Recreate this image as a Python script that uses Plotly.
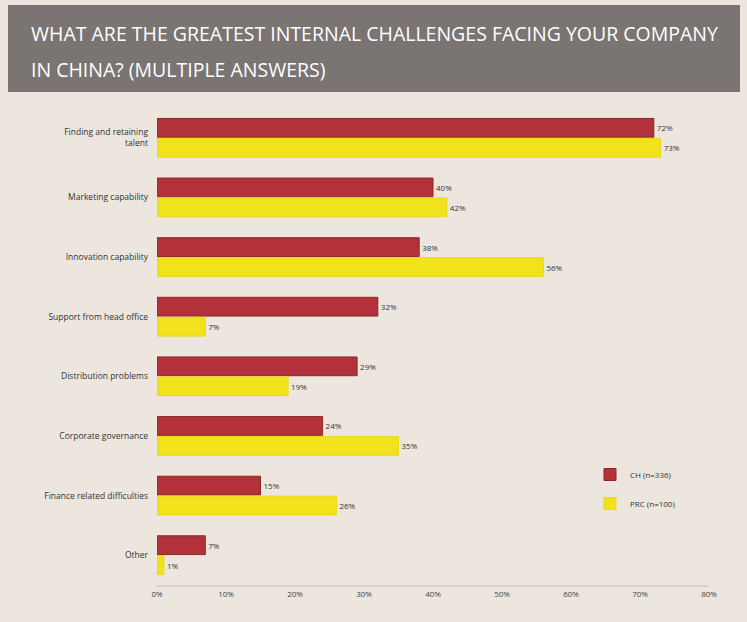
import plotly.graph_objects as go

categories = ["Finding and retaining<br>talent", "Marketing capability", "Innovation capability",
              "Support from head office", "Distribution problems", "Corporate governance",
              "Finance related difficulties", "Other"]
ch_values = [72, 40, 38, 32, 29, 24, 15, 7]
prc_values = [73, 42, 56, 7, 19, 35, 26, 1]
series_names = ["CH (n=336)", "PRC (n=100)"]
tick_vals = [0, 10, 20, 30, 40, 50, 60, 70, 80]
tick_text = ["0%", "10%", "20%", "30%", "40%", "50%", "60%", "70%", "80%"]
title_lines = ["WHAT ARE THE GREATEST INTERNAL CHALLENGES FACING YOUR COMPANY",
               "IN CHINA? (MULTIPLE ANSWERS)"]

W, H = 747, 622
L, R, T, B = 157, 38, 108, 37
pw, ph = W - L - R, H - T - B

def px(x):
    return (x - L) / pw

def py(y):
    return (H - B - y) / ph

fig = go.Figure()
fig.add_trace(go.Bar(
    y=categories, x=ch_values, name=series_names[0], orientation="h",
    marker=dict(color="#b3313b", line=dict(color="#8a2a22", width=1)),
    text=[f"{v}%" for v in ch_values], texttemplate="%{text}", textposition="outside",
    textfont=dict(size=8, color="#333333"), legendgroup="a", cliponaxis=False))
fig.add_trace(go.Bar(
    y=categories, x=prc_values, name=series_names[1], orientation="h",
    marker=dict(color="#f2e21c", line=dict(color="#e8d820", width=1)),
    text=[f"{v}%" for v in prc_values], texttemplate="%{text}", textposition="outside",
    textfont=dict(size=8, color="#333333"), legendgroup="b", cliponaxis=False))

fig.add_shape(type="rect", xref="paper", yref="paper",
              x0=px(8), x1=px(740), y0=py(92), y1=py(5),
              fillcolor="#7a7472", line=dict(width=0), layer="below")
for line, yc in zip(title_lines, [33, 70]):
    fig.add_annotation(xref="paper", yref="paper", x=px(29), y=py(yc), xanchor="left",
                       yanchor="middle", text=line, showarrow=False, align="left",
                       font=dict(family="Open Sans", size=19.5, color="white"))

fig.update_layout(
    width=W, height=H,
    margin=dict(l=L, r=R, t=T, b=B),
    paper_bgcolor="#ece6df", plot_bgcolor="#ece6df",
    barmode="group", bargap=0.33, bargroupgap=0.06,
    font=dict(family="Open Sans", size=8, color="#333333"),
    showlegend=True,
    legend=dict(x=px(590), y=py(460), xanchor="left", yanchor="top",
                bgcolor="rgba(0,0,0,0)", font=dict(size=8, color="#333333"),
                tracegroupgap=10, itemwidth=30),
    xaxis=dict(range=[0, 80], tickvals=tick_vals, ticktext=tick_text, showgrid=False,
               zeroline=False, showline=True, linecolor="#d6d0ca", linewidth=2,
               tickfont=dict(size=8, color="#444444"), ticks=""),
    yaxis=dict(autorange="reversed", showgrid=False, zeroline=False, showline=False,
               tickfont=dict(size=8.5, color="#333333"), ticks="", ticklabelstandoff=8),
)

fig.write_html("out.html")
